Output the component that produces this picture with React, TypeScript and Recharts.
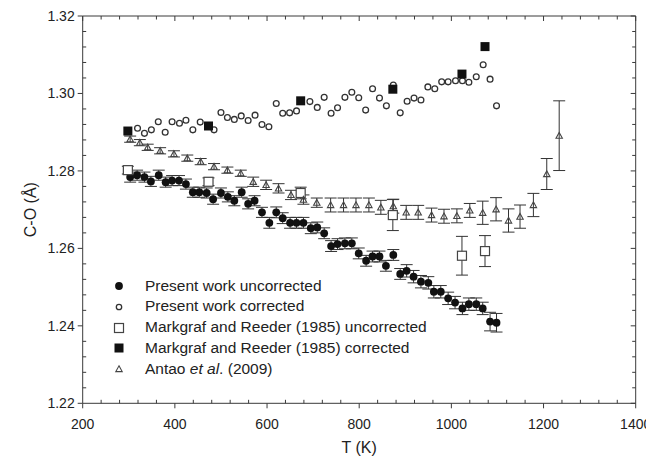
import React from 'react';
import { ScatterChart, Scatter, XAxis, YAxis, ErrorBar, Legend } from 'recharts';

const FONT = '"Liberation Sans", Arial, Helvetica, sans-serif';
const AXIS = '#3a3a3a';
const TEXT = '#222';

// ---- tick labels ----
const xMajorTicks = [200, 400, 600, 800, 1000, 1200, 1400];
const yMajorTicks = [1.22, 1.24, 1.26, 1.28, 1.3, 1.32];
const xAllTicks = Array.from({ length: 31 }, (_, i) => 200 + i * 40);
const yAllTicks = Array.from({ length: 26 }, (_, i) => Number((1.22 + i * 0.004).toFixed(3)));

// ---- Present work uncorrected ----
const presentUncorrT = [303, 318, 334, 348, 365, 380, 394, 409, 424, 439, 453, 469, 483, 500, 515, 529, 545, 559, 573, 589, 605, 620, 634, 650, 664, 679, 695, 709, 724, 739, 753, 769, 784, 799, 815, 829, 844, 858, 874, 889, 903, 918, 934, 950, 962, 977, 993, 1008, 1024, 1038, 1054, 1068, 1084, 1098];
const presentUncorrV = [1.2784, 1.2789, 1.2784, 1.2773, 1.2789, 1.2771, 1.2775, 1.2775, 1.2766, 1.2745, 1.2745, 1.2743, 1.2727, 1.2743, 1.2733, 1.2723, 1.2745, 1.2715, 1.2723, 1.2693, 1.2666, 1.2693, 1.2678, 1.2666, 1.2666, 1.2666, 1.2652, 1.2654, 1.2639, 1.2606, 1.2611, 1.2613, 1.2613, 1.2587, 1.2568, 1.2579, 1.2579, 1.2555, 1.2583, 1.2534, 1.2542, 1.2527, 1.2514, 1.2511, 1.2488, 1.2488, 1.2471, 1.246, 1.2445, 1.2456, 1.2456, 1.2445, 1.2411, 1.2408];
const presentUncorrErr = [0.0013, 0.0013, 0.0013, 0.0013, 0.0013, 0.0013, 0.0013, 0.0013, 0.0013, 0.0013, 0.0013, 0.0013, 0.0013, 0.0013, 0.0013, 0.0013, 0.0013, 0.0013, 0.0013, 0.0013, 0.0014, 0.0014, 0.0014, 0.0014, 0.0014, 0.0014, 0.0014, 0.0014, 0.0014, 0.0014, 0.0014, 0.0014, 0.0014, 0.0014, 0.0014, 0.0014, 0.0014, 0.0014, 0.0014, 0.0014, 0.0016, 0.0016, 0.0016, 0.0016, 0.0016, 0.0016, 0.0016, 0.0016, 0.0016, 0.0016, 0.0016, 0.0016, 0.0024, 0.0024];

// ---- Present work corrected ----
const presentCorrT = [319, 334, 349, 364, 379, 394, 410, 424, 439, 455, 485, 500, 514, 529, 544, 559, 574, 589, 604, 620, 634, 649, 664, 693, 709, 724, 739, 753, 769, 784, 799, 814, 829, 844, 859, 874, 889, 904, 919, 934, 949, 964, 979, 993, 1009, 1024, 1038, 1054, 1069, 1084, 1098];
const presentCorrV = [1.291, 1.2897, 1.2906, 1.2927, 1.29, 1.2927, 1.2923, 1.2931, 1.2906, 1.2926, 1.2906, 1.2951, 1.2938, 1.2933, 1.2942, 1.293, 1.2944, 1.292, 1.2914, 1.2974, 1.2949, 1.295, 1.2955, 1.2979, 1.2964, 1.299, 1.2949, 1.2963, 1.299, 1.3003, 1.2989, 1.2957, 1.3012, 1.2988, 1.2968, 1.3022, 1.295, 1.298, 1.2988, 1.2983, 1.3017, 1.3012, 1.303, 1.303, 1.3033, 1.3033, 1.3029, 1.3043, 1.3074, 1.3037, 1.2968];

// ---- Markgraf and Reeder (1985) ----
const markgrafT = [298, 473, 673, 873, 1023, 1073];
const markgrafUncorrV = [1.2802, 1.2772, 1.2743, 1.2686, 1.2581, 1.2593];
const markgrafUncorrErr = [0.001, 0.001, 0.0015, 0.004, 0.005, 0.004];
const markgrafCorrV = [1.2903, 1.2916, 1.2981, 1.3011, 1.305, 1.3121];

// ---- Antao et al. (2009) ----
const antaoT = [303, 324, 341, 368, 398, 427, 456, 485, 514, 543, 570, 598, 625, 652, 679, 708, 738, 766, 793, 821, 847, 874, 902, 928, 957, 984, 1012, 1040, 1068, 1097, 1124, 1149, 1178, 1207, 1234];
const antaoV = [1.2882, 1.2873, 1.2861, 1.2852, 1.2844, 1.2833, 1.2824, 1.2811, 1.2802, 1.2794, 1.2772, 1.2764, 1.2755, 1.2738, 1.2726, 1.2718, 1.2712, 1.2712, 1.2712, 1.2712, 1.2706, 1.2709, 1.2693, 1.2693, 1.2686, 1.2683, 1.2684, 1.2698, 1.2692, 1.2701, 1.2672, 1.2682, 1.2712, 1.2792, 1.2891];
const antaoErr = [0.0008, 0.0008, 0.0008, 0.0008, 0.0008, 0.0008, 0.0008, 0.0008, 0.0008, 0.0008, 0.0012, 0.0012, 0.0012, 0.0012, 0.0012, 0.0012, 0.0018, 0.0018, 0.0018, 0.0018, 0.0018, 0.0018, 0.0018, 0.0018, 0.0018, 0.0018, 0.0018, 0.0018, 0.003, 0.003, 0.003, 0.003, 0.003, 0.004, 0.009];

const legendLabels = [
  'Present work uncorrected',
  'Present work corrected',
  'Markgraf and Reeder (1985) uncorrected',
  'Markgraf and Reeder (1985) corrected',
  'Antao et al. (2009)',
];

const build = (xs: number[], ys: number[], errs?: number[]) =>
  xs.map((x, i) => ({ x, y: ys[i], err: errs ? errs[i] : 0 }));

const presentUncorrData = build(presentUncorrT, presentUncorrV, presentUncorrErr);
const presentCorrData = build(presentCorrT, presentCorrV);
const markgrafUncorrData = build(markgrafT, markgrafUncorrV, markgrafUncorrErr);
const markgrafCorrData = build(markgrafT, markgrafCorrV);
const antaoData = build(antaoT, antaoV, antaoErr);

const isMajor = (list: number[], v: number) => list.some((m) => Math.abs(m - v) < 1e-6);

// ---- marker shapes ----
const FilledCircle = (p: any) => <circle cx={p.cx} cy={p.cy} r={3.9} fill="#111" />;
const OpenCircle = (p: any) => (
  <circle cx={p.cx} cy={p.cy} r={2.9} fill="#fff" stroke="#333" strokeWidth={1.3} />
);
const OpenSquare = (p: any) => (
  <rect x={p.cx - 4.5} y={p.cy - 4.5} width={9} height={9} fill="#fff" stroke="#444" strokeWidth={1.2} />
);
const FilledSquare = (p: any) => (
  <rect x={p.cx - 4.5} y={p.cy - 4.5} width={9} height={9} fill="#111" />
);
const Triangle = (p: any) => (
  <path
    d={`M${p.cx},${p.cy - 3.2} L${p.cx + 3.2},${p.cy + 2.6} L${p.cx - 3.2},${p.cy + 2.6} Z`}
    fill="none"
    stroke="#444"
    strokeWidth={1.1}
  />
);

// ---- ticks ----
const BottomTick = (props: any) => {
  const { x, y, payload } = props;
  const major = isMajor(xMajorTicks, payload.value);
  return (
    <g>
      <line x1={x} x2={x} y1={y} y2={major ? y + 5 : y - 3.5} stroke={AXIS} strokeWidth={1} />
      {major && (
        <text x={x} y={y + 25.5} textAnchor="middle" fontSize={14} fill={TEXT} fontFamily={FONT}>
          {payload.value}
        </text>
      )}
    </g>
  );
};
const TopTick = (props: any) => {
  const { x, y, payload } = props;
  const major = isMajor(xMajorTicks, payload.value);
  return <line x1={x} x2={x} y1={y} y2={major ? y + 5 : y + 3.5} stroke={AXIS} strokeWidth={1} />;
};
const LeftTick = (props: any) => {
  const { x, y, payload } = props;
  const major = isMajor(yMajorTicks, payload.value);
  return (
    <g>
      <line x1={x} x2={major ? x - 5 : x + 3.5} y1={y} y2={y} stroke={AXIS} strokeWidth={1} />
      {major && (
        <text x={x - 8} y={y + 5} textAnchor="end" fontSize={14} fill={TEXT} fontFamily={FONT}>
          {Number(payload.value).toFixed(2)}
        </text>
      )}
    </g>
  );
};
const RightTick = (props: any) => {
  const { x, y, payload } = props;
  const major = isMajor(yMajorTicks, payload.value);
  return <line x1={x} x2={major ? x - 5 : x - 3.5} y1={y} y2={y} stroke={AXIS} strokeWidth={1} />;
};

const XTitle = (props: any) => {
  const vb = props.viewBox;
  return (
    <text x={vb.x + vb.width / 2} y={vb.y + 49.4} textAnchor="middle" fontSize={16} fill={TEXT} fontFamily={FONT}>
      T (K)
    </text>
  );
};
const YTitle = (props: any) => {
  const vb = props.viewBox;
  const cx = vb.x + 13;
  const cy = vb.y + vb.height / 2;
  return (
    <text
      x={cx}
      y={cy}
      transform={`rotate(-90, ${cx}, ${cy})`}
      textAnchor="middle"
      fontSize={16}
      fill={TEXT}
      fontFamily={FONT}
    >
      C-O (Å)
    </text>
  );
};

const legendIcons = [
  <circle cx={10} cy={10} r={3.9} fill="#111" />,
  <circle cx={10} cy={10} r={2.7} fill="#fff" stroke="#333" strokeWidth={1.3} />,
  <rect x={5.5} y={5.5} width={9} height={9} fill="#fff" stroke="#444" strokeWidth={1.2} />,
  <rect x={5.5} y={5.5} width={9} height={9} fill="#111" />,
  <path d="M10,6.8 L13.2,12.6 L6.8,12.6 Z" fill="none" stroke="#444" strokeWidth={1.1} />,
];

const LegendContent = () => (
  <div style={{ fontFamily: FONT, fontSize: 15.5, color: TEXT }}>
    {legendLabels.map((label, i) => (
      <div key={label} style={{ display: 'flex', alignItems: 'center', height: 20.8, whiteSpace: 'nowrap' }}>
        <svg width={20} height={20} style={{ display: 'block' }}>
          {legendIcons[i]}
        </svg>
        <span style={{ marginLeft: 15.7, lineHeight: '20.8px' }}>
          {i === 4 ? (
            <>
              Antao <i>et al</i>. (2009)
            </>
          ) : (
            label
          )}
        </span>
      </div>
    ))}
  </div>
);

export default function App() {
  return (
    <div style={{ width: 654, height: 467, margin: -8, position: 'relative', fontFamily: FONT }}>
      <ScatterChart width={654} height={467} margin={{ top: 14, right: 16.3, bottom: 13.7, left: 22.7 }}>
        <XAxis
          xAxisId="b"
          type="number"
          dataKey="x"
          domain={[200, 1400]}
          ticks={xAllTicks}
          interval={0}
          tick={BottomTick}
          tickLine={false}
          tickSize={0}
          tickMargin={0}
          axisLine={{ stroke: AXIS }}
          height={50}
          allowDataOverflow
          label={XTitle}
        />
        <XAxis
          xAxisId="t"
          orientation="top"
          type="number"
          dataKey="x"
          domain={[200, 1400]}
          ticks={xAllTicks}
          interval={0}
          tick={TopTick}
          tickLine={false}
          tickSize={0}
          tickMargin={0}
          axisLine={{ stroke: AXIS }}
          height={2}
          allowDataOverflow
        />
        <YAxis
          yAxisId="l"
          type="number"
          dataKey="y"
          domain={[1.22, 1.32]}
          ticks={yAllTicks}
          interval={0}
          tick={LeftTick}
          tickLine={false}
          tickSize={0}
          tickMargin={0}
          axisLine={{ stroke: AXIS }}
          width={60}
          allowDataOverflow
          label={YTitle}
        />
        <YAxis
          yAxisId="r"
          orientation="right"
          type="number"
          dataKey="y"
          domain={[1.22, 1.32]}
          ticks={yAllTicks}
          interval={0}
          tick={RightTick}
          tickLine={false}
          tickSize={0}
          tickMargin={0}
          axisLine={{ stroke: AXIS }}
          width={2}
          allowDataOverflow
        />
        <Scatter xAxisId="b" yAxisId="l" data={presentUncorrData} shape={FilledCircle} isAnimationActive={false}>
          <ErrorBar dataKey="err" direction="y" width={6} stroke="#333" strokeWidth={1} isAnimationActive={false} />
        </Scatter>
        <Scatter xAxisId="b" yAxisId="l" data={presentCorrData} shape={OpenCircle} isAnimationActive={false} />
        <Scatter xAxisId="b" yAxisId="l" data={markgrafUncorrData} shape={OpenSquare} isAnimationActive={false}>
          <ErrorBar dataKey="err" direction="y" width={6} stroke="#333" strokeWidth={1} isAnimationActive={false} />
        </Scatter>
        <Scatter xAxisId="b" yAxisId="l" data={markgrafCorrData} shape={FilledSquare} isAnimationActive={false} />
        <Scatter xAxisId="b" yAxisId="l" data={antaoData} shape={Triangle} isAnimationActive={false}>
          <ErrorBar dataKey="err" direction="y" width={6} stroke="#333" strokeWidth={1} isAnimationActive={false} />
        </Scatter>
        <Legend
          content={LegendContent}
          layout="vertical"
          align="center"
          verticalAlign="middle"
          wrapperStyle={{ left: 109.3, top: 275.6, width: 'auto', height: 'auto' }}
        />
      </ScatterChart>
    </div>
  );
}
